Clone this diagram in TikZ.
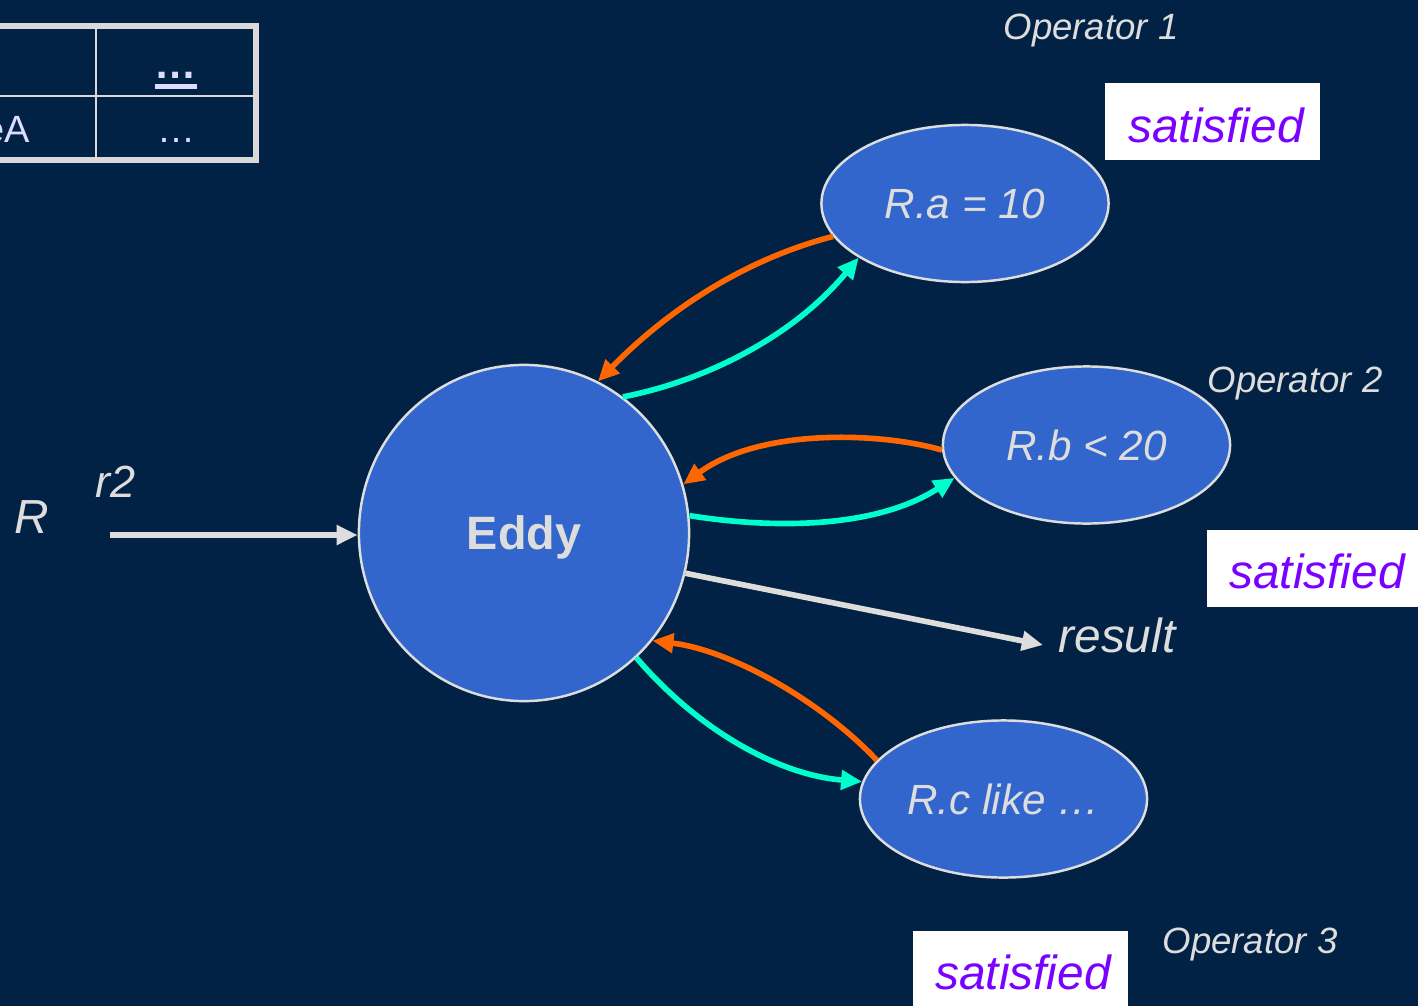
\documentclass[tikz,border=0pt]{standalone}
\usepackage{fontspec}
\setmainfont{Liberation Sans}
\usetikzlibrary{shapes.geometric,arrows.meta}
\definecolor{bg}{RGB}{1,34,68}
\definecolor{opfill}{RGB}{51,102,204}
\definecolor{ink}{RGB}{221,221,221}
\definecolor{reject}{RGB}{255,102,0}
\definecolor{route}{RGB}{0,255,204}
\definecolor{okviolet}{RGB}{122,0,255}
\definecolor{cellink}{RGB}{221,221,255}
\definecolor{gridline}{RGB}{217,217,217}
\newcommand{\ulbold}[1]{\setbox0\hbox{\bfseries #1}\rlap{\raisebox{-3pt}{\rule{\wd0}{1.4pt}}}\box0}
\begin{document}
\begin{tikzpicture}[x=0.01cm,y=-0.01cm,
  opnode/.style={ellipse, draw=ink, line width=0.7pt, fill=opfill, inner sep=0pt,
    text=ink, font=\fontsize{12}{14}\selectfont\itshape,
    minimum width=2.87cm, minimum height=1.57cm},
  tag/.style={text=ink, font=\fontsize{10.4}{12}\selectfont\itshape, anchor=base, inner sep=0pt},
  bigtag/.style={text=ink, font=\fontsize{13.6}{16}\selectfont\itshape, anchor=base, inner sep=0pt},
  okbox/.style={fill=white, inner sep=0pt, minimum width=2.15cm, minimum height=0.77cm},
  oktext/.style={text=okviolet, font=\fontsize{13.6}{16}\selectfont\itshape, anchor=base, inner sep=0pt},
  cell/.style={text=cellink, font=\fontsize{10.8}{13}\selectfont, anchor=base, inner sep=0pt},
  link/.style={line width=1.6pt, -{Triangle[length=6pt,width=5.4pt]}},
]
\useasboundingbox (0,0) rectangle (1418,1006);
\fill[bg] (0,0) rectangle (1418,1006);

% partially visible table in the corner
\draw[gridline, line width=1.6pt] (-20,26) -- (256,26) -- (256,160) -- (-20,160);
\draw[gridline, line width=0.75pt] (96,26) -- (96,160) (-20,96) -- (256,96);
\node[cell, font=\fontsize{12}{14}\selectfont] (headdots) at (176,78) {\ulbold{…}};
\node[cell, anchor=base east] (rowname) at (31,142) {eA};
\node[cell] (rowdots) at (176,142) {…};

% eddy and its operators
\node[ellipse, draw=ink, line width=0.7pt, fill=opfill, inner sep=0pt, text=ink,
  font=\fontsize{13.3}{16}\selectfont\bfseries, text depth=0pt,
  minimum width=3.3cm, minimum height=3.36cm] (eddy) at (524,533) {Eddy};
\node[opnode] (ra) at (965,203.5) {R.a = 10};
\node[opnode] (rb) at (1086.5,445) {R.b < 20};
\node[opnode] (rc) at (1003.5,799) {R.c like …};

% operator captions
\node[tag] (op1) at (1091,40) {Operator 1};
\node[tag] (op2) at (1295,392) {Operator 2};
\node[tag] (op3) at (1250,953) {Operator 3};

% satisfied markers
\node[okbox] (ok1) at (1212.5,121.5) {};
\node[oktext] (ok1t) at (1216,142) {satisfied};
\node[okbox] (ok2) at (1314.5,568.5) {};
\node[oktext] (ok2t) at (1317,588) {satisfied};
\node[okbox] (ok3) at (1020.5,970) {};
\node[oktext] (ok3t) at (1023,989) {satisfied};

% input tuple and output
\node[bigtag] (rel) at (32,533) {R};
\node[bigtag, font=\fontsize{12.8}{15}\selectfont\itshape] (tup) at (116,497) {r2};
\node[bigtag] (res) at (1117,652) {result};
\coordinate (rin) at (110,535);
\coordinate (rout) at (1043,645);
\draw[link, ink] (rin) -- (rin -| eddy.west);
\draw[link, ink] (eddy.-14.4) -- (rout);

% routing to operators and returns
\draw[link, reject] (ra.194.2) .. controls (735,262) and (660,318) .. (eddy.64.6);
\draw[link, route] (eddy.54.1) .. controls (700,382) and (790,340) .. (ra.207.6);
\draw[link, reject] (rb.182) .. controls (880,432) and (760,428) .. (eddy.17.6);
\draw[link, route] (eddy.6.9) .. controls (760,527) and (870,532) .. (rb.194.1);
\draw[link, reject] (rc.163.1) .. controls (820,700) and (730,650) .. (eddy.-40.1);
\draw[link, route] (eddy.-48.7) .. controls (700,732) and (780,775) .. (rc.173.4);
\end{tikzpicture}
\end{document}
